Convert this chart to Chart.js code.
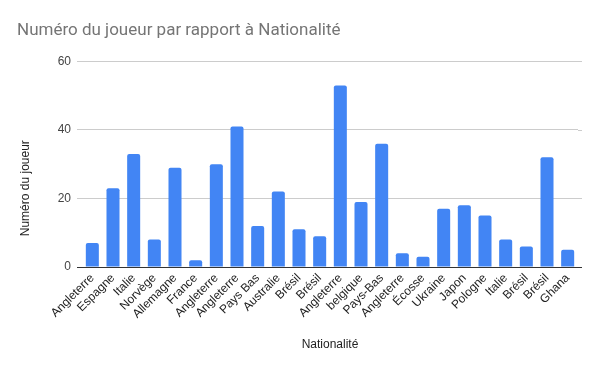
<!DOCTYPE html>
<html>
<head>
    <title>Numéro du joueur par rapport à Nationalité</title>
    <style>
        body {
            margin: 0;
            padding: 0;
            background-color: #fff;
        }
    </style>
    <script src="https://cdn.jsdelivr.net/npm/chart.js"></script>
</head>
<body>
    <canvas id="playerChart" width="600" height="371"></canvas>

    <script>
        // Data
        const nationalities = [
            "Angleterre", "Espagne", "Italie", "Norvège", "Allemagne", "France",
            "Angleterre", "Angleterre", "Pays Bas", "Australie", "Brésil", "Brésil",
            "Angleterre", "belgique", "Pays-Bas", "Angleterre", "Écosse", "Ukraine",
            "Japon", "Pologne", "Italie", "Brésil", "Brésil", "Ghana"
        ];
        const playerNumbers = [7, 23, 33, 8, 29, 2, 30, 41, 12, 22, 11, 9, 53, 19, 36, 4, 3, 17, 18, 15, 8, 6, 32, 5];
        const yTicks = [0, 20, 40, 60];

        const tickFont = { family: "'Liberation Sans', Arial, sans-serif", size: 12 };
        const yTitle = "Numéro du joueur";

        // grid lines run a few px past the bars on both sides, and the
        // y title sits a bit lower than the middle of the axis
        const extras = {
            id: "extras",
            beforeDatasetsDraw: function (chart) {
                const c = chart.ctx;
                const area = chart.chartArea;
                const y = chart.scales.y;
                c.save();
                yTicks.forEach(v => {
                    const py = Math.round(y.getPixelForValue(v)) + 0.5;
                    c.strokeStyle = v === 0 ? "#333" : "#cccccc";
                    c.lineWidth = 1;
                    c.beginPath();
                    c.moveTo(area.right, py);
                    c.lineTo(area.right + 4, py);
                    c.stroke();
                });
                c.restore();
            },
            afterDraw: function (chart) {
                const c = chart.ctx;
                const area = chart.chartArea;
                c.save();
                c.translate(26, (area.top + area.bottom) / 2 + 24);
                c.rotate(-Math.PI / 2);
                c.fillStyle = "#222";
                c.font = "12px 'Liberation Sans', Arial, sans-serif";
                c.textAlign = "center";
                c.textBaseline = "middle";
                c.fillText(yTitle, 0, 0);
                c.restore();
            }
        };

        const ctx = document.getElementById("playerChart").getContext("2d");
        new Chart(ctx, {
            type: "bar",
            data: {
                labels: nationalities,
                datasets: [{
                    label: yTitle,
                    data: playerNumbers,
                    backgroundColor: "#4285f4",
                    borderRadius: { topLeft: 2, topRight: 2 },
                    borderSkipped: "bottom",
                    barPercentage: 0.63,
                    categoryPercentage: 1
                }]
            },
            options: {
                responsive: false,
                animation: false,
                layout: { padding: { left: 0, right: 22, top: 0, bottom: 0 } },
                plugins: {
                    legend: { display: false },
                    tooltip: { enabled: false },
                    title: {
                        display: true,
                        text: "Numéro du joueur par rapport à Nationalité",
                        align: "start",
                        color: "#757575",
                        font: { family: "Roboto, sans-serif", size: 17, weight: "normal" },
                        padding: { top: 21, bottom: 20 }
                    }
                },
                scales: {
                    x: {
                        grid: { display: false, drawTicks: false },
                        border: { color: "#333", width: 1 },
                        ticks: {
                            color: "#222",
                            font: tickFont,
                            autoSkip: false,
                            minRotation: 45,
                            maxRotation: 45,
                            padding: 4
                        },
                        title: {
                            display: true,
                            text: "Nationalité",
                            color: "#222",
                            font: tickFont,
                            padding: { top: 0, bottom: 19 }
                        },
                        afterFit: function (scale) {
                            scale.height = 104;
                        }
                    },
                    y: {
                        min: 0,
                        max: 60,
                        afterBuildTicks: function (scale) {
                            scale.ticks = yTicks.map(v => ({ value: v }));
                        },
                        grid: {
                            color: ctx => ctx.tick && ctx.tick.value === 0 ? "#333" : "#cccccc",
                            drawTicks: true,
                            tickLength: 5
                        },
                        border: { display: false },
                        ticks: {
                            color: "#444",
                            font: tickFont,
                            padding: 6
                        },
                        afterFit: function (scale) {
                            scale.width = 82;
                        }
                    }
                }
            },
            plugins: [extras, {
                id: "titleIndent",
                beforeDraw: function (chart) {
                    chart.titleBlock.left = 17;
                }
            }]
        });
    </script>
</body>
</html>
